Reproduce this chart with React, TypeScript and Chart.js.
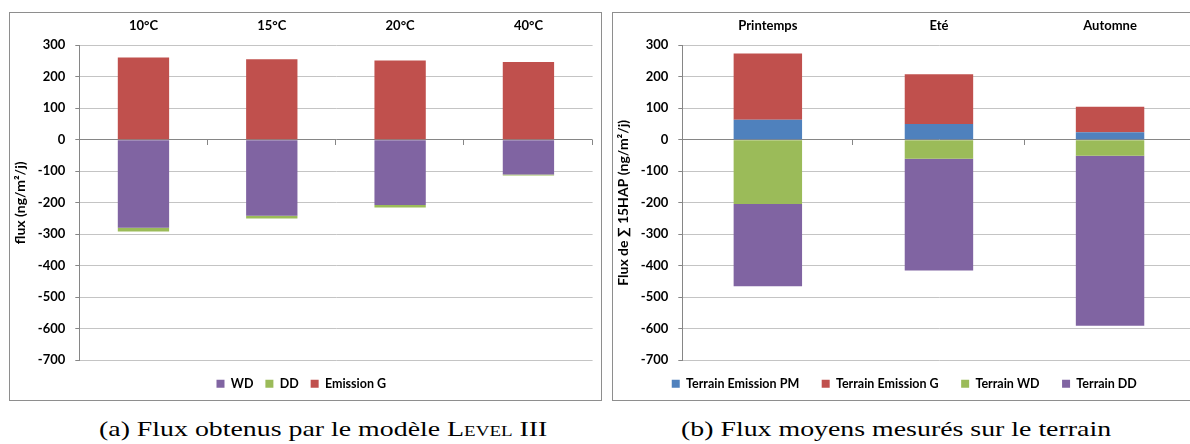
import React, { useEffect, useRef } from "react";
import { Chart, registerables } from "chart.js";

Chart.register(...registerables);

// ---- Data: (a) Level III model ----
const tempCategories = ["10°C", "15°C", "20°C", "40°C"];
const modelWD = [-279, -241, -207, -110];
const modelDD = [-12, -9, -8, -3];
const modelEmissionG = [261, 256, 252, 247];

// ---- Data: (b) field measurements ----
const seasonCategories = ["Printemps", "Eté", "Automne"];
const terrainEmissionPM = [64, 50, 24];
const terrainEmissionG = [210, 158, 81];
const terrainWD = [-204, -60, -51];
const terrainDD = [-261, -355, -539];

const yMin = -700;
const yMax = 300;
const yStep = 100;

const BLUE = "#4F81BD";
const RED = "#C0504D";
const GREEN = "#9BBB59";
const PURPLE = "#8064A2";
const AXIS = "#868686";
const GRID = "#c4c4c4";
const FONT = "Lato, 'Open Sans', sans-serif";
const LEGEND_SIZE = 12.5;
const CANVAS_H = 387;
const PLOT_BOTTOM = 347.3;
const LEGEND_CENTER = 370.75;

const zeroTicks = {
  id: "zeroTicks",
  afterDatasetsDraw(chart: any) {
    const xs = chart.scales.x;
    const ys = chart.scales.y;
    const y0 = Math.round(ys.getPixelForValue(0));
    const n = chart.data.labels.length;
    const ctx = chart.ctx;
    ctx.save();
    ctx.strokeStyle = AXIS;
    ctx.lineWidth = 1;
    ctx.beginPath();
    for (let i = 1; i <= n; i++) {
      const px = Math.round(xs.left + (i * xs.width) / n) - 0.5;
      ctx.moveTo(px, y0);
      ctx.lineTo(px, y0 + 5);
    }
    ctx.stroke();
    ctx.restore();
  },
};

// keep the legend row vertically centred on LEGEND_CENTER whatever its item spacing
const legendCenter = {
  id: "legendCenter",
  afterLayout(chart: any) {
    const lg = chart.legend;
    if (!lg) return;
    const pad = lg.options.labels.padding;
    const cur = lg.top + pad + LEGEND_SIZE / 2;
    const d = LEGEND_CENTER - cur;
    lg.top += d;
    lg.bottom += d;
  },
};

function makeConfig(labels: string[], datasets: any[], yTitle: string, legendPad: number): any {
  const maxLegendH = CANVAS_H - PLOT_BOTTOM;
  const gap = Math.max(0, maxLegendH - (LEGEND_SIZE + legendPad + 10));
  return {
    type: "bar",
    data: { labels, datasets },
    plugins: [zeroTicks, legendCenter],
    options: {
      animation: false,
      responsive: false,
      devicePixelRatio: 1,
      layout: { padding: { left: 0, right: 8.4, top: 0, bottom: 0 } },
      plugins: {
        tooltip: { enabled: false },
        legend: {
          position: "bottom",
          maxHeight: maxLegendH,
          labels: {
            boxWidth: 8,
            boxHeight: 8,
            padding: legendPad,
            color: "#000",
            font: { family: FONT, size: LEGEND_SIZE, weight: "bold" },
          },
        },
      },
      datasets: {
        bar: { categoryPercentage: 1, barPercentage: 0.4, borderWidth: 0 },
      },
      scales: {
        x: {
          stacked: true,
          position: "top",
          grid: { display: false, drawTicks: false },
          border: { display: false },
          ticks: {
            color: "#000",
            font: { family: FONT, size: 13, weight: "bold" },
            padding: 12,
            maxRotation: 0,
          },
          afterFit: (s: any) => {
            s.height = 32.3;
          },
        },
        // spacer between plot area and legend
        xGap: {
          type: "category",
          position: "bottom",
          display: gap > 0,
          grid: { display: false, drawTicks: false },
          border: { display: false },
          ticks: { display: false },
          afterFit: (s: any) => {
            s.height = gap;
          },
        },
        y: {
          stacked: true,
          min: yMin,
          max: yMax,
          ticks: {
            stepSize: yStep,
            color: "#000",
            font: { family: FONT, size: 13, weight: "bold" },
            padding: 10,
          },
          grid: {
            color: (c: any) => (c.tick && c.tick.value === 0 ? AXIS : GRID),
            tickColor: AXIS,
            tickLength: 4,
            lineWidth: 1,
          },
          border: { display: true, color: AXIS },
          title: {
            display: true,
            text: yTitle,
            color: "#000",
            font: { family: FONT, size: 14, weight: "bold" },
            padding: { top: 1.6, bottom: 0 },
          },
          afterFit: (s: any) => {
            s.width = 69.3;
          },
        },
      },
    },
  };
}

function ChartCanvas({ config, style }: { config: any; style: React.CSSProperties }) {
  const ref = useRef<HTMLCanvasElement | null>(null);
  useEffect(() => {
    if (!ref.current) return;
    const chart = new Chart(ref.current, config);
    return () => chart.destroy();
  }, [config]);
  return (
    <canvas
      ref={ref}
      width={591}
      height={CANVAS_H}
      style={{ position: "absolute", display: "block", width: 591, height: CANVAS_H, ...style }}
    />
  );
}

const configA = makeConfig(
  tempCategories,
  [
    { label: "WD", data: modelWD, backgroundColor: PURPLE },
    { label: "DD", data: modelDD, backgroundColor: GREEN },
    { label: "Emission G", data: modelEmissionG, backgroundColor: RED },
  ],
  "flux (ng/m²/j)",
  12
);

const configB = makeConfig(
  seasonCategories,
  [
    { label: "Terrain Emission PM", data: terrainEmissionPM, backgroundColor: BLUE },
    { label: "Terrain Emission G", data: terrainEmissionG, backgroundColor: RED },
    { label: "Terrain WD", data: terrainWD, backgroundColor: GREEN },
    { label: "Terrain DD", data: terrainDD, backgroundColor: PURPLE },
  ],
  "Flux de ∑ 15HAP (ng/m²/j)",
  22.5
);

const panelStyle: React.CSSProperties = {
  position: "absolute",
  top: 12,
  width: 593,
  height: 389,
  boxSizing: "border-box",
  border: "1px solid #8e8e8e",
};

const captionStyle: React.CSSProperties = {
  position: "absolute",
  top: 417.6,
  fontFamily: "'Liberation Serif', 'Times New Roman', serif",
  fontSize: 22,
  lineHeight: "22px",
  whiteSpace: "nowrap",
  color: "#000",
  transformOrigin: "left top",
  transform: "scaleX(1.266)",
};

export default function App() {
  return (
    <div
      style={{
        position: "absolute",
        left: 0,
        top: 0,
        width: 1190,
        height: 444,
        overflow: "hidden",
        background: "#fff",
      }}
    >
      <div style={{ ...panelStyle, left: 9 }} />
      <div style={{ ...panelStyle, left: 612 }} />
      <ChartCanvas config={configA} style={{ left: 10, top: 13 }} />
      <ChartCanvas config={configB} style={{ left: 613, top: 13 }} />
      <div style={{ ...captionStyle, left: 99 }}>
        (a) Flux obtenus par le modèle <span style={{ fontVariant: "small-caps" }}>Level</span> III
      </div>
      <div style={{ ...captionStyle, left: 681 }}>(b) Flux moyens mesurés sur le terrain</div>
    </div>
  );
}
